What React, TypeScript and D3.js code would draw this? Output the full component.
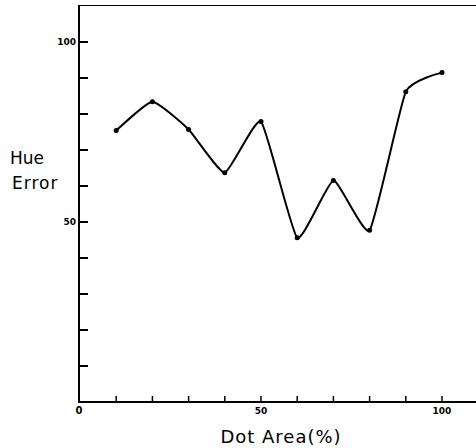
import React from 'react';
import * as d3 from 'd3';

// dot area (%) and hue error
const dotArea = [10, 20, 30, 40, 50, 60, 70, 80, 90, 100];
const hueError = [75.4, 83.4, 75.7, 63.7, 77.9, 45.6, 61.5, 47.7, 86.2, 91.5];
const yTicks = [10, 20, 30, 40, 50, 60, 70, 80, 90, 100];
const xTicks = [10, 20, 30, 40, 50, 60, 70, 80, 90, 100];
const yLabels = [50, 100];
const xLabels = [50, 100];

export default function App() {
    const width = 476;
    const height = 448;

    const x = d3.scaleLinear().domain([0, 100]).range([80, 442]);
    const y = d3.scaleLinear().domain([0, 100]).range([402, 42]);

    const points: [number, number][] = dotArea.map((d, i) => [x(d), y(hueError[i])]);

    const line = d3.line().curve(d3.curveCardinal.tension(0.55));

    const hand = '"DejaVu Sans", sans-serif';

    return (
        <svg width={width} height={height}
             style={{ position: 'absolute', left: 0, top: 0, background: '#fff' }}>
            {/* frame */}
            <line x1={79} y1={5.5} x2={width} y2={5.5} stroke="#000" strokeWidth={1.2} />
            <line x1={79} y1={5} x2={79} y2={402} stroke="#000" strokeWidth={2} />
            <line x1={78} y1={402} x2={width} y2={402} stroke="#000" strokeWidth={1.8} />

            {/* y ticks */}
            {yTicks.map((t) => (
                <line key={'yt' + t} x1={79} x2={88} y1={y(t)} y2={y(t)}
                      stroke="#000" strokeWidth={2} />
            ))}
            {/* x ticks */}
            {xTicks.map((t) => (
                <line key={'xt' + t} x1={x(t)} x2={x(t)} y1={402} y2={396}
                      stroke="#000" strokeWidth={1.5} />
            ))}

            {yLabels.map((t) => (
                <text key={'yl' + t} x={76} y={y(t) + 3} textAnchor="end" fill="#000"
                      fontFamily={hand} fontSize={9} fontWeight="bold">{t}</text>
            ))}
            <text x={79} y={414} textAnchor="middle" fontFamily={hand} fill="#000"
                  fontSize={10} fontWeight="bold">0</text>
            {xLabels.map((t) => (
                <text key={'xl' + t} x={x(t)} y={414} textAnchor="middle" fill="#000"
                      fontFamily={hand} fontSize={9} fontWeight="bold">{t}</text>
            ))}

            {/* axis titles */}
            <text x={10} y={164} fontFamily={hand} fontSize={17} fill="#000">Hue</text>
            <text x={12} y={189} fontFamily={hand} fontSize={17} letterSpacing={1}
                  fill="#000">Error</text>
            <text x={281} y={443} textAnchor="middle" fontFamily={hand} fill="#000"
                  fontSize={18} letterSpacing={1}>Dot Area(%)</text>

            {/* curve */}
            <path d={line(points) || ''} fill="none" stroke="#000"
                  strokeWidth={2} strokeLinejoin="round" />
            {points.map((p, i) => (
                <circle key={'p' + i} cx={p[0]} cy={p[1]} r={2.5} fill="#000" />
            ))}
        </svg>
    );
}
